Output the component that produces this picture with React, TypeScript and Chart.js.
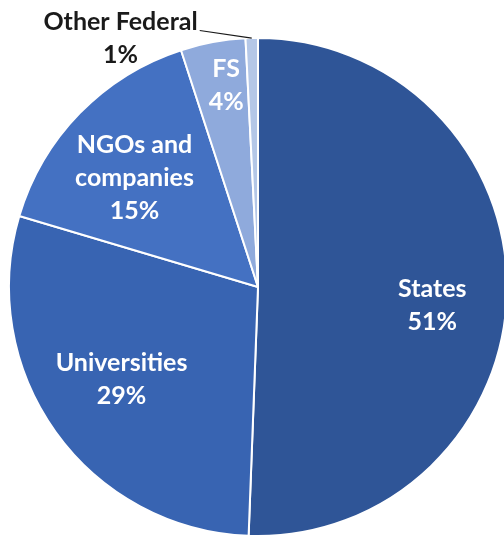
import React, { useEffect, useRef } from "react";
import { Chart, registerables } from "chart.js";

Chart.register(...registerables);

const categories = ["States", "Universities", "NGOs and companies", "FS", "Other Federal"];
const shares = [50.6, 29.0, 15.4, 4.2, 0.8];
const percentLabels = ["51%", "29%", "15%", "4%", "1%"];
const labelLines = [["States"], ["Universities"], ["NGOs and", "companies"], ["FS"], ["Other Federal"]];

const sliceColors = ["#2F5597", "#3864B2", "#4471C2", "#8FAADC", "#B4C7E7"];
// label block centre, as a fraction of the pie radius from the pie centre
const labelPlacement = [
  { fx: 0.70, fy: 0.076, color: "#FFFFFF", leader: false },
  { fx: -0.548, fy: 0.372, color: "#FFFFFF", leader: false },
  { fx: -0.496, fy: -0.436, color: "#FFFFFF", leader: false },
  { fx: -0.128, fy: -0.808, color: "#FFFFFF", leader: false },
  { fx: -0.552, fy: -1.0, color: "#1A1A1A", leader: true },
];

const FONT = "bold 25px Lato";
const LINE_H = 33;

const labelPlugin = {
  id: "sliceLabels",
  afterDraw(chart: any) {
    const ctx = chart.ctx;
    const meta = chart.getDatasetMeta(0);
    ctx.save();
    ctx.font = FONT;
    ctx.textAlign = "center";
    ctx.textBaseline = "middle";
    meta.data.forEach((arc: any, i: number) => {
      const p = arc.getProps(["x", "y", "startAngle", "endAngle", "outerRadius"], true);
      const cfg = labelPlacement[i];
      const lines = [...labelLines[i], percentLabels[i]];
      const cx = p.x + cfg.fx * p.outerRadius;
      const cy = p.y + cfg.fy * p.outerRadius;
      const top = cy - ((lines.length - 1) * LINE_H) / 2;
      ctx.fillStyle = cfg.color;
      lines.forEach((t, k) => ctx.fillText(t, cx, top + k * LINE_H));
      if (cfg.leader) {
        const w = ctx.measureText(lines[0]).width;
        const mid = (p.startAngle + p.endAngle) / 2;
        const ax = p.x + Math.cos(mid) * p.outerRadius;
        const ay = p.y + Math.sin(mid) * p.outerRadius;
        ctx.strokeStyle = "#1A1A1A";
        ctx.lineWidth = 1.2;
        ctx.beginPath();
        ctx.moveTo(cx + w / 2 + 2, top + 9);
        ctx.lineTo(ax, ay);
        ctx.stroke();
      }
    });
    ctx.restore();
  },
};

export default function App() {
  const ref = useRef<HTMLCanvasElement | null>(null);
  useEffect(() => {
    document.body.style.margin = "0";
    const chart = new Chart(ref.current as HTMLCanvasElement, {
      type: "pie",
      data: {
        labels: categories,
        datasets: [
          {
            data: shares,
            backgroundColor: sliceColors,
            borderColor: "#FFFFFF",
            borderWidth: 2,
          },
        ],
      },
      options: {
        animation: false,
        responsive: false,
        maintainAspectRatio: false,
        layout: { padding: { left: 8, right: 8, top: 37, bottom: 37 } },
        plugins: { legend: { display: false }, tooltip: { enabled: false } },
      },
      plugins: [labelPlugin],
    });
    return () => chart.destroy();
  }, []);
  return (
    <div style={{ position: "fixed", left: 0, top: 0, width: 504, height: 537, overflow: "hidden", background: "#fff" }}>
      <canvas ref={ref} width={516} height={574} style={{ width: 516, height: 574, display: "block" }} />
    </div>
  );
}
